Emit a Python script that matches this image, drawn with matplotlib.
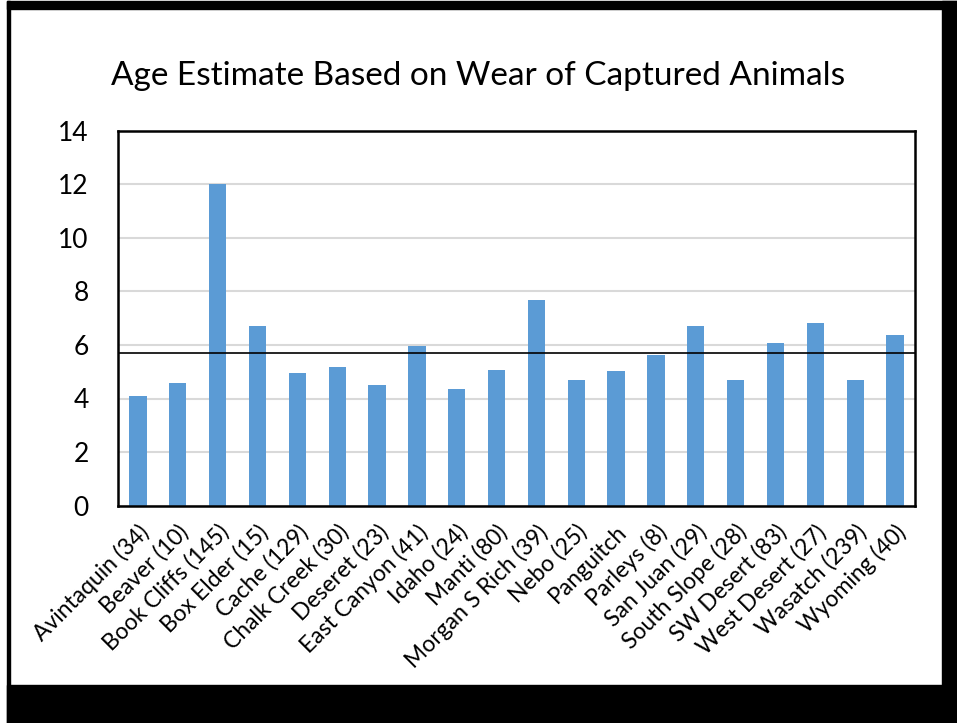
import matplotlib.pyplot as plt
from matplotlib.patches import Rectangle

# sites with sample sizes, mean age estimate per site
sites = ["Avintaquin (34)", "Beaver (10)", "Book Cliffs (145)", "Box Elder (15)",
         "Cache (129)", "Chalk Creek (30)", "Deseret (23)", "East Canyon (41)",
         "Idaho (24)", "Manti (80)", "Morgan S Rich (39)", "Nebo (25)", "Panguitch",
         "Parleys (8)", "San Juan (29)", "South Slope (28)", "SW Desert (83)",
         "West Desert (27)", "Wasatch (239)", "Wyoming (40)"]
ages = [4.10, 4.57, 12.0, 6.71, 4.94, 5.16, 4.51, 5.96, 4.37, 5.07,
        7.68, 4.71, 5.03, 5.63, 6.70, 4.68, 6.06, 6.84, 4.68, 6.37]
overall_mean = 5.70
yticks = [0, 2, 4, 6, 8, 10, 12, 14]

W, H = 957, 723
plt.rcParams['font.family'] = ['Lato', 'DejaVu Sans']
fig = plt.figure(figsize=(W / 100, H / 100), dpi=100, facecolor="white")

# black frame around the slide
def px_rect(x0, y0, x1, y1):
    fig.patches.append(Rectangle((x0 / W, 1 - y1 / H), (x1 - x0) / W, (y1 - y0) / H,
                                 transform=fig.transFigure, color="black", zorder=0))

px_rect(7, 1, 957, 9)
px_rect(7, 1, 10, 723)
px_rect(942, 1, 957, 723)
px_rect(7, 685, 957, 723)

ax = fig.add_axes([118 / W, 1 - 505.5 / H, 797 / W, 374.5 / H])
x = range(len(sites))
ax.bar(x, ages, width=0.435, color="#5b9bd5", zorder=2)
ax.axhline(overall_mean, color="black", linewidth=1.2, zorder=3)

ax.set_ylim(0, 14)
ax.set_xlim(-0.5, len(sites) - 0.5)
ax.set_yticks(yticks)
ax.set_yticklabels([str(v) for v in yticks], fontsize=19)
ax.yaxis.grid(True, color="#d9d9d9", linewidth=1.5, zorder=1)
ax.set_axisbelow(True)
ax.tick_params(axis="y", length=0, pad=21)
ax.set_xticks(list(x))
ax.set_xticklabels(sites, rotation=45, ha="right", rotation_mode="anchor", fontsize=16.5)
ax.tick_params(axis="x", length=0, pad=11)
for s in ax.spines.values():
    s.set_color("black")
    s.set_linewidth(1.8)

fig.text(478.5 / W, 1 - 76 / H, "Age Estimate Based on Wear of Captured Animals",
         ha="center", va="center", fontsize=24)

fig.savefig("out.png", dpi=100)
